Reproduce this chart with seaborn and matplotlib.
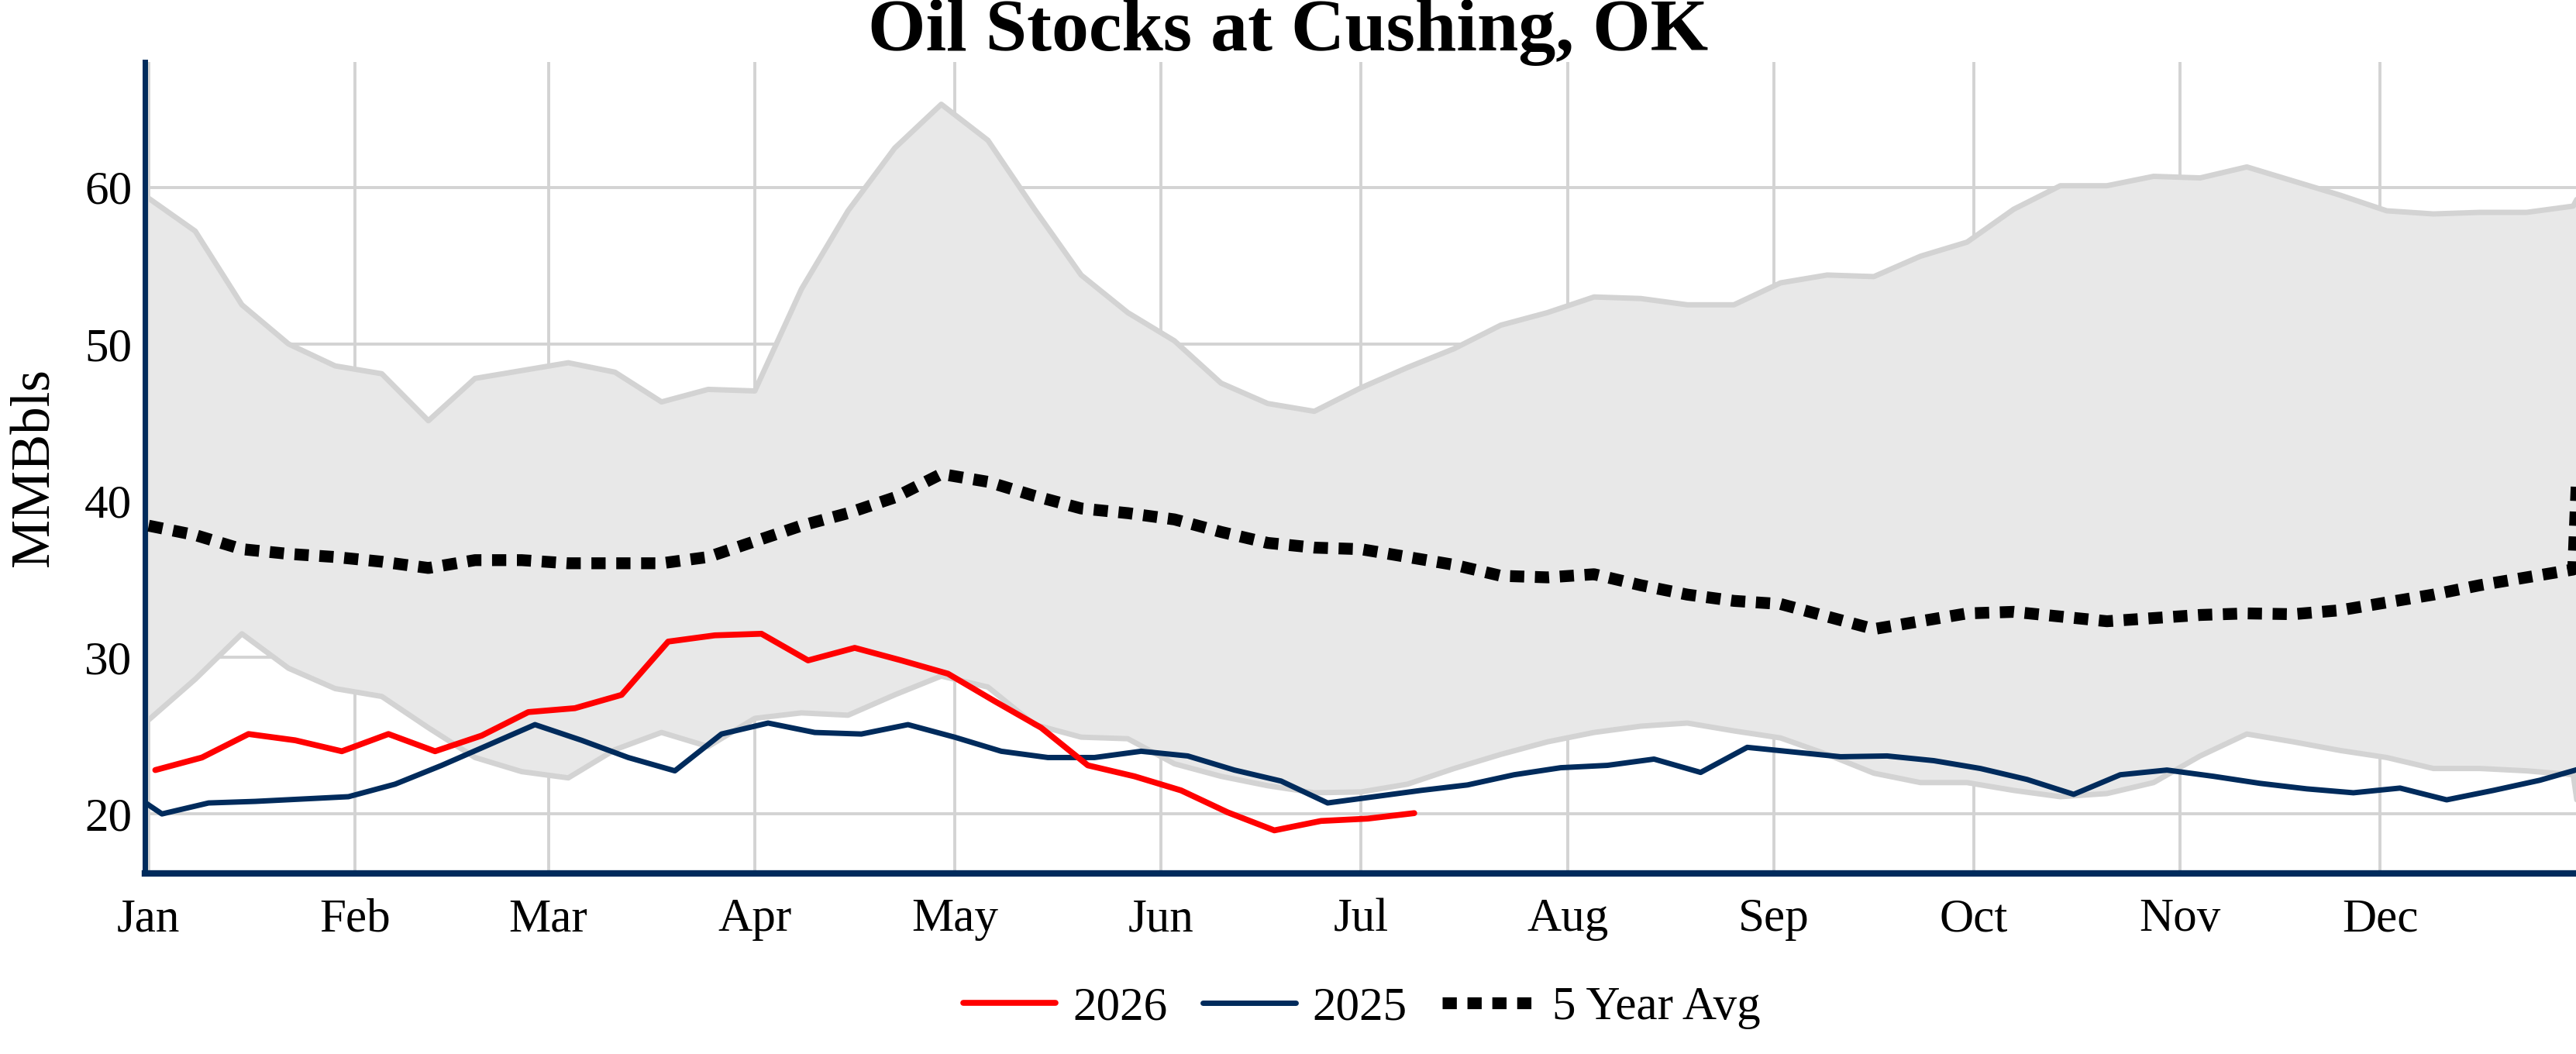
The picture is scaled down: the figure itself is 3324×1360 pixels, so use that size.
import matplotlib
matplotlib.use("Agg")
import matplotlib.pyplot as plt
import matplotlib.dates as mdates
import pandas as pd
import seaborn as sns

# Weekly Cushing stocks (MMBbls), all laid on one reference year (2024)
# so that every series shares the Jan..Dec axis.
# 5-year band: weekly from Jan 1, last value is the wrap into the next year
avg_5yr = [38.4, 37.8, 36.9, 36.6, 36.4, 36.1, 35.7, 36.2, 36.2, 36.0, 36.0, 36.0,
           36.4, 37.4, 38.4, 39.2, 40.2, 41.7, 41.2, 40.3, 39.5, 39.2, 38.8, 38.0,
           37.3, 37.0, 36.9, 36.4, 35.9, 35.2, 35.1, 35.3, 34.6, 34.0, 33.6, 33.4,
           32.6, 31.8, 32.3, 32.8, 32.9, 32.6, 32.3, 32.5, 32.7, 32.8, 32.75, 33.0,
           33.5, 34.0, 34.6, 35.1, 35.6, 46.0]
max_5yr = [59.3, 57.2, 52.5, 50.0, 48.6, 48.1, 45.1, 47.8, 48.3, 48.8, 48.2, 46.3,
           47.1, 47.0, 53.5, 58.5, 62.5, 65.3, 63.0, 58.6, 54.4, 52.0, 50.2, 47.5,
           46.2, 45.7, 47.2, 48.5, 49.7, 51.2, 52.0, 53.0, 52.9, 52.5, 52.5, 53.9,
           54.4, 54.3, 55.6, 56.5, 58.6, 60.1, 60.1, 60.7, 60.6, 61.3, 60.4, 59.5,
           58.5, 58.3, 58.4, 58.4, 58.8, 59.6]
min_5yr = [26.0, 28.6, 31.5, 29.3, 28.0, 27.5, 25.5, 23.6, 22.7, 22.3, 24.1, 25.2,
           24.3, 26.1, 26.45, 26.3, 27.6, 28.8, 28.1, 25.7, 24.9, 24.8, 23.2, 22.4,
           21.8, 21.35, 21.4, 21.9, 22.9, 23.8, 24.6, 25.2, 25.6, 25.8, 25.3, 24.85,
           23.8, 22.6, 22.0, 22.0, 21.5, 21.1, 21.3, 22.0, 23.7, 25.1, 24.6, 24.05,
           23.6, 22.9, 22.9, 22.75, 22.5, 19.5]

# 2025: weekly, first value is the last week of the previous year
stocks_2025 = [22.0, 20.0, 20.7, 20.8, 20.95, 21.1, 21.9, 23.1, 24.4, 25.7, 24.7,
               23.6, 22.75, 25.1, 25.8, 25.2, 25.1, 25.7, 24.9, 24.0, 23.6, 23.6,
               24.0, 23.7, 22.8, 22.1, 20.7, 21.1, 21.5, 21.85, 22.5, 22.95, 23.1,
               23.5, 22.65, 24.25, 23.95, 23.65, 23.7, 23.4, 22.9, 22.2, 21.25, 22.5,
               22.8, 22.4, 21.95, 21.6, 21.35, 21.65, 20.9, 21.5, 22.15, 23.0]

# 2026 year to date
stocks_2026 = [22.8, 23.6, 25.1, 24.7, 24.0, 25.1, 24.0, 25.0, 26.5, 26.75, 27.6,
               31.0, 31.4, 31.5, 29.8, 30.6, 29.8, 28.95, 27.2, 25.5, 23.1, 22.4,
               21.5, 20.1, 18.95, 19.55, 19.7, 20.05]

band_dates = list(pd.date_range("2024-01-01", periods=53, freq="7D")) + [pd.Timestamp("2024-12-31")]
dates_2025 = pd.date_range("2023-12-27", periods=len(stocks_2025), freq="7D")
dates_2026 = pd.date_range("2024-01-02", periods=len(stocks_2026), freq="7D")

NAVY = "#002b5c"
RED = "#ff0000"
GREY_LINE = "#d3d3d3"
GREY_FILL = "#e8e8e8"

band = pd.DataFrame({"date": band_dates, "avg": avg_5yr, "max": max_5yr, "min": min_5yr})
y2025 = pd.DataFrame({"date": dates_2025, "value": stocks_2025})
y2026 = pd.DataFrame({"date": dates_2026, "value": stocks_2026})

sns.set_theme(style="whitegrid")
plt.rcParams["font.family"] = ["Liberation Serif", "DejaVu Serif"]
plt.rcParams["text.color"] = "black"
plt.rcParams["axes.labelcolor"] = "black"

fig = plt.figure(figsize=(33.24, 13.6), dpi=100)
ax = fig.add_axes([0.0563, 0.1713, 0.9437, 0.7699])
ax.set_facecolor("white")

ax.fill_between(band["date"], band["min"], band["max"], color=GREY_FILL, lw=0, zorder=1)
sns.lineplot(data=band, x="date", y="max", color=GREY_LINE, lw=5, ax=ax, zorder=2)
sns.lineplot(data=band, x="date", y="min", color=GREY_LINE, lw=5, ax=ax, zorder=2)
sns.lineplot(data=band, x="date", y="avg", color="black", lw=11,
             linestyle=(0, (1.2, 0.9)), label="5 Year Avg", ax=ax, zorder=4)
sns.lineplot(data=y2025, x="date", y="value", color=NAVY, lw=5, label="2025", ax=ax, zorder=3)
sns.lineplot(data=y2026, x="date", y="value", color=RED, lw=5.5, label="2026", ax=ax, zorder=5)

ax.set_xlim(pd.Timestamp("2023-12-31 11:00"), pd.Timestamp("2024-12-30 10:00"))
ax.set_ylim(16.2, 68.0)
ax.set_yticks([20, 30, 40, 50, 60])
ax.xaxis.set_major_locator(mdates.MonthLocator())
ax.xaxis.set_major_formatter(mdates.DateFormatter("%b"))

ax.set_axisbelow(True)
ax.grid(True, color=GREY_LINE, lw=2.8)
ax.tick_params(axis="both", length=0, labelsize=44, colors="black")
ax.tick_params(axis="x", pad=23)
ax.tick_params(axis="y", pad=12)

for side in ["top", "right"]:
    ax.spines[side].set_visible(False)
ax.spines["left"].set_color(NAVY)
ax.spines["left"].set_linewidth(5)
ax.spines["bottom"].set_color(NAVY)
ax.spines["bottom"].set_linewidth(6)

ax.set_xlabel("")
ax.set_ylabel("MMBbls", fontsize=51)
ax.yaxis.set_label_coords(-0.035, 0.5)

fig.text(0.5, 0.952, "Oil Stocks at Cushing, OK", ha="center", va="baseline",
         fontsize=69, fontweight="bold")

handles, labels = ax.get_legend_handles_labels()
lookup = dict(zip(labels, handles))
order = ["2026", "2025", "5 Year Avg"]
ax.legend([lookup[k] for k in order], order, loc="center", bbox_to_anchor=(0.5286, 0.044),
          bbox_transform=fig.transFigure, ncol=3, frameon=False, fontsize=44,
          handlelength=1.96, handletextpad=0.36, columnspacing=0.74)

fig.savefig("out.png", dpi=100, facecolor="white")
